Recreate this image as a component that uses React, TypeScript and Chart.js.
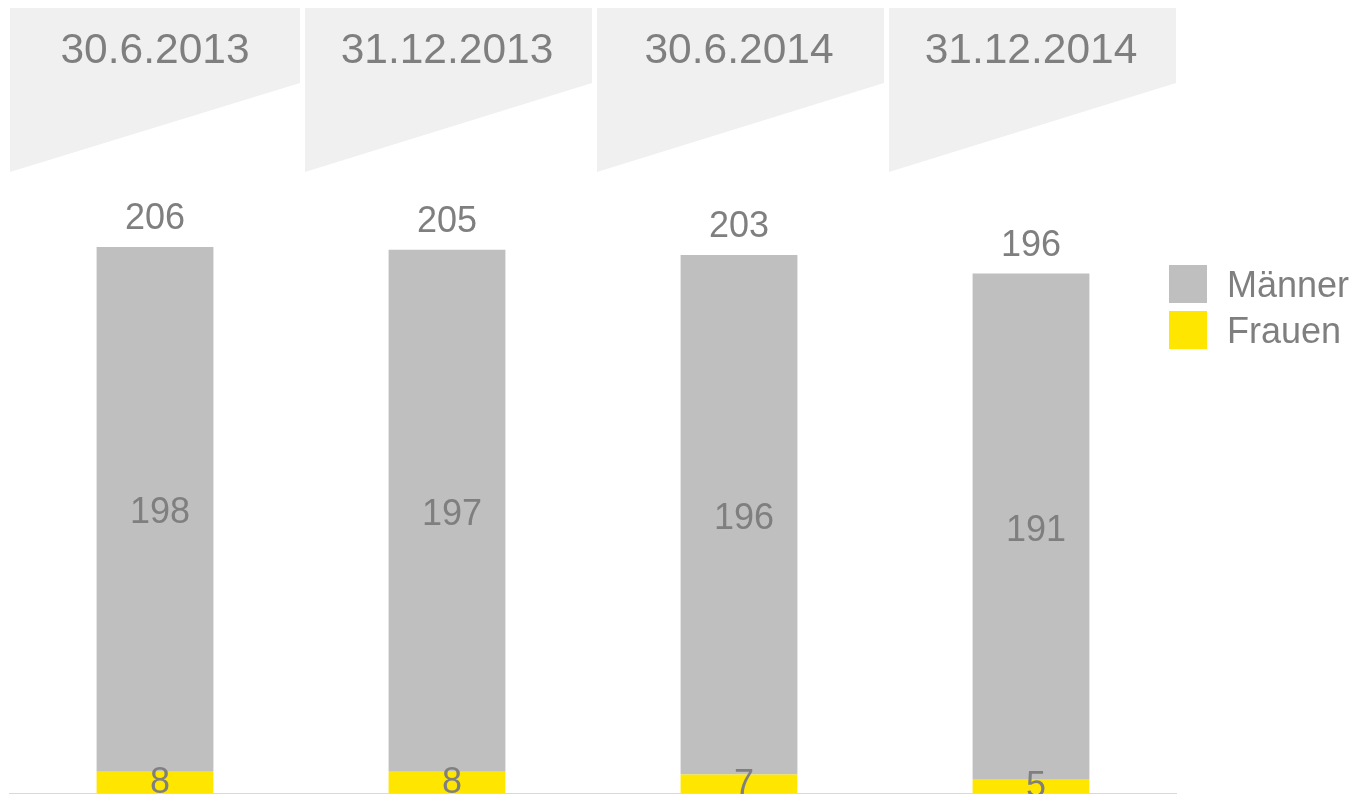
import React, { useEffect, useRef } from "react";
import { Chart, registerables } from "chart.js";

Chart.register(...registerables);

const categories = ["30.6.2013", "31.12.2013", "30.6.2014", "31.12.2014"];
const maenner = [198, 197, 196, 191];
const frauen = [8, 8, 7, 5];
const totals = [206, 205, 203, 196];
const seriesNames = ["Männer", "Frauen"];

const GREY = "#bfbfbf";
const YELLOW = "#ffe600";
const TEXT = "#7f7f7f";
const HEADER = "#f0f0f0";
const FONT = "'Liberation Sans', Arial, sans-serif";

const overlay = {
  id: "overlay",
  beforeDatasetsDraw(chart: any) {
    const ctx = chart.ctx;
    const x = chart.scales.x;
    const area = chart.chartArea;
    ctx.save();
    const n = categories.length;
    const step = (area.right - area.left) / n;
    categories.forEach((c, i) => {
      const l = area.left + i * step + (i === 0 ? 1 : 4);
      const r = area.left + (i + 1) * step - 1;
      ctx.fillStyle = HEADER;
      ctx.beginPath();
      ctx.moveTo(l, 8);
      ctx.lineTo(r, 8);
      ctx.lineTo(r, 83);
      ctx.lineTo(l, 172);
      ctx.closePath();
      ctx.fill();
      ctx.fillStyle = TEXT;
      ctx.font = `42.5px ${FONT}`;
      ctx.textAlign = "center";
      ctx.textBaseline = "middle";
      ctx.fillText(c, x.getPixelForValue(i), 51);
    });
    ctx.strokeStyle = "#d9d9d9";
    ctx.lineWidth = 1;
    ctx.beginPath();
    ctx.moveTo(area.left, area.bottom + 0.5);
    ctx.lineTo(area.right, area.bottom + 0.5);
    ctx.stroke();
    ctx.restore();
  },
  afterDatasetsDraw(chart: any) {
    const ctx = chart.ctx;
    const y = chart.scales.y;
    const x = chart.scales.x;
    ctx.save();
    ctx.fillStyle = TEXT;
    ctx.font = `36px ${FONT}`;
    ctx.textAlign = "center";
    ctx.textBaseline = "middle";
    const mFrauen = chart.getDatasetMeta(0);
    const mMaenner = chart.getDatasetMeta(1);
    categories.forEach((_, i) => {
      const cx = x.getPixelForValue(i);
      const bf = mFrauen.data[i];
      const bm = mMaenner.data[i];
      ctx.fillText(String(frauen[i]), cx + 5, (bf.y + bf.base) / 2 + 1);
      ctx.fillText(String(maenner[i]), cx + 5, (bm.y + bm.base) / 2 + 4);
      ctx.fillText(String(totals[i]), cx, y.getPixelForValue(totals[i]) - 28);
    });
    const items = [
      { name: seriesNames[0], color: GREY, top: 265 },
      { name: seriesNames[1], color: YELLOW, top: 311 },
    ];
    ctx.textAlign = "left";
    items.forEach((it) => {
      ctx.fillStyle = it.color;
      ctx.fillRect(1169, it.top, 38, 38);
      ctx.fillStyle = TEXT;
      ctx.fillText(it.name, 1227, it.top + 22);
    });
    ctx.restore();
  },
};

export default function App() {
  const ref = useRef<HTMLCanvasElement>(null);
  useEffect(() => {
    if (!ref.current) return;
    const chart = new Chart(ref.current, {
      type: "bar",
      data: {
        labels: categories,
        datasets: [
          {
            label: seriesNames[1],
            data: frauen,
            backgroundColor: YELLOW,
            borderWidth: 0,
            categoryPercentage: 1,
            barPercentage: 0.4,
          },
          {
            label: seriesNames[0],
            data: maenner,
            backgroundColor: GREY,
            borderWidth: 0,
            categoryPercentage: 1,
            barPercentage: 0.4,
          },
        ],
      },
      options: {
        animation: false,
        responsive: false,
        layout: { padding: { left: 9, right: 176, top: 104, bottom: 1 } },
        plugins: { legend: { display: false }, tooltip: { enabled: false } },
        scales: {
          x: { stacked: true, display: false },
          y: { stacked: true, display: false, min: 0, max: 260 },
        },
      },
      plugins: [overlay],
    });
    return () => chart.destroy();
  }, []);
  return (
    <div style={{ position: "fixed", left: 0, top: 0, width: 1353, height: 794, background: "#fff" }}>
      <canvas ref={ref} width={1353} height={794} style={{ display: "block" }} />
    </div>
  );
}
